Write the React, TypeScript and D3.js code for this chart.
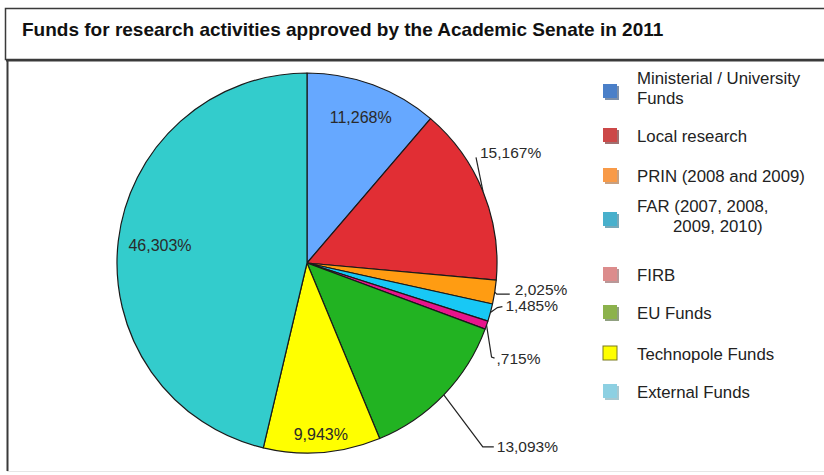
import React from "react";
import * as d3 from "d3";

const categories = [
  "Ministerial / University Funds",
  "Local research",
  "PRIN (2008 and 2009)",
  "FAR (2007, 2008, 2009, 2010)",
  "FIRB",
  "EU Funds",
  "Technopole Funds",
  "External Funds",
];
const sliceLabels = ["11,268%", "15,167%", "2,025%", "1,485%", ",715%", "13,093%", "9,943%", "46,303%"];
const sliceValues = [11.268, 15.167, 2.025, 1.485, 0.715, 13.093, 9.943, 46.303];
const legendLines = [
  ["Ministerial / University", "Funds"],
  ["Local research"],
  ["PRIN (2008 and 2009)"],
  ["FAR (2007, 2008,", "2009, 2010)"],
  ["FIRB"],
  ["EU Funds"],
  ["Technopole Funds"],
  ["External Funds"],
];

const sliceColors = ["#66a8ff", "#e12e34", "#ff9c12", "#18c8f5", "#e8148c", "#22b322", "#ffff00", "#33cccc"];
const legendColors = ["#4a7fc8", "#cc4848", "#f89a48", "#48b0cc", "#dc8c8c", "#8cb24c", "#ffff00", "#8dd0e2"];
const legendShadow = ["#7d8fa8", "#a07070", "#c8a080", "#78a8b8", "#b89898", "#90a080", "#ffff00", "#a8c8d0"];

// label layout: inside radius, or leader offsets from arc point
const labelLayout: any[] = [
  { inside: 155 },
  { pts: [[0, 0], [-7, -34]], tx: -3, ty: -39 },
  { pts: [[0, 0], [2, 2], [15, 2]], tx: 20, ty: -2.5 },
  { pts: [[0, 0], [7, -5], [12, -6]], tx: 15, ty: -7 },
  { pts: [[0, 0], [5, 32], [8, 33]], tx: 10, ty: 33 },
  { pts: [[0, 0], [39, 52], [50, 52]], tx: 53, ty: 52 },
  { inside: 172 },
  { inside: 148 },
];

const legendY = [92, 136, 176, 220, 275, 313, 354, 392];

export default function App() {
  const W = 824, H = 475;
  const cx = 307, cy = 263, r = 190;
  const pie = d3.pie<number>().sort(null).value((d) => d);
  const arcs = pie(sliceValues);
  const arcGen = d3.arc<d3.PieArcDatum<number>>().innerRadius(0).outerRadius(r);
  const font = "'Liberation Sans', Arial, sans-serif";

  return (
    <svg width={W} height={H} style={{ position: "absolute", left: 0, top: 0, background: "#fff" }} fontFamily={font}>
      <rect x={0} y={0} width={W} height={H} fill="#fff" />
      {/* title box */}
      <rect x={5.5} y={8.5} width={830} height={51} fill="#fff" stroke="#3a3a3a" strokeWidth={1.5} />
      <text x={22} y={36} fontSize={19} fontWeight="bold" fill="#111">
        Funds for research activities approved by the Academic Senate in 2011
      </text>
      {/* chart box */}
      <line x1={7.5} y1={61} x2={7.5} y2={471} stroke="#3a3a3a" strokeWidth={2} />
      <line x1={6} y1={60.5} x2={824} y2={60.5} stroke="#3a3a3a" strokeWidth={2} />
      <line x1={7} y1={471.5} x2={824} y2={471.5} stroke="#e6e6e6" strokeWidth={1} />

      <g transform={`translate(${cx},${cy})`}>
        {arcs.map((a, i) => (
          <path key={i} d={arcGen(a) as string} fill={sliceColors[i]} stroke="#1a1a1a" strokeWidth={1.2} strokeLinejoin="round" />
        ))}
        {arcs.map((a, i) => {
          const mid = (a.startAngle + a.endAngle) / 2;
          const L = labelLayout[i];
          if (L.inside) {
            const x = Math.sin(mid) * L.inside;
            const y = -Math.cos(mid) * L.inside;
            return (
              <text key={i} x={x} y={y} textAnchor="middle" dominantBaseline="central" fontSize={16} fill="#2a2a2a">
                {sliceLabels[i]}
              </text>
            );
          }
          const px = Math.sin(mid) * r;
          const py = -Math.cos(mid) * r;
          const pts = L.pts.map((p: number[]) => [px + p[0], py + p[1]] as [number, number]);
          return (
            <g key={i}>
              <path d={d3.line()(pts) as string} fill="none" stroke="#222" strokeWidth={1.2} />
              <text x={px + L.tx} y={py + L.ty} dominantBaseline="central" fontSize={15.5} fill="#2a2a2a">
                {sliceLabels[i]}
              </text>
            </g>
          );
        })}
      </g>

      {/* legend */}
      {categories.map((c, i) => {
        const y = legendY[i];
        const lines = legendLines[i];
        return (
          <g key={c}>
            <rect x={605} y={y - 6} width={14} height={14} fill={legendShadow[i]} opacity={i === 6 ? 0 : 1} />
            <rect x={603} y={y - 8} width={14} height={14} fill={legendColors[i]} stroke={i === 6 ? "#7a7a20" : "none"} strokeWidth={1} />
            {lines.map((t, j) => (
              <text key={j} x={j === 1 && i === 3 ? 673 : 637} y={(lines.length === 1 ? y : y - 14 + j * 20)} dominantBaseline="central" fontSize={16.8} fill="#222">
                {t}
              </text>
            ))}
          </g>
        );
      })}
    </svg>
  );
}
